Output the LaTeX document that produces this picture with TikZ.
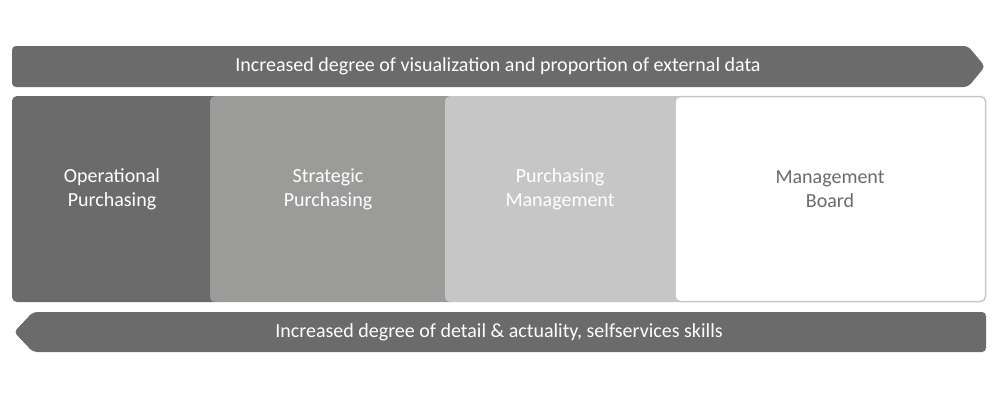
\documentclass[tikz,border=0pt]{standalone}
\usepackage{fontspec}
\setmainfont{Carlito}
\usepackage{tikz}
\definecolor{dark}{HTML}{6B6B6B}
\definecolor{mid}{HTML}{9B9B9A}
\definecolor{light}{HTML}{C6C6C6}
\definecolor{rim}{HTML}{C8C8C8}
\begin{document}
\begin{tikzpicture}[x=1pt,y=-1pt,font=\fontsize{20}{24}\selectfont,
  lbl/.style={align=center,text=white}]
\useasboundingbox (0,0) rectangle (1000,400);
\fill[dark,rounded corners=4] (968,46) -- (12,46) -- (12,87) -- (968,87) -- (985,66.5) -- cycle;
\node[lbl] (top) at (498,66.5) {Increased degree of visualization and proportion of external data};
\fill[dark,rounded corners=5] (12,96) rectangle (222,302);
\fill[mid,rounded corners=5] (210,96) rectangle (457,302);
\fill[light,rounded corners=5] (445,96) rectangle (690,302);
\draw[rim,fill=white,line width=1.5,rounded corners=5] (675,96.5) rectangle (985.5,301.5);
\node[lbl] (op) at (112,189) {Operational\\Purchasing};
\node[lbl] (st) at (328,189) {Strategic\\Purchasing};
\node[lbl] (pm) at (560,189) {Purchasing\\Management};
\node[lbl,text=dark] (mb) at (830,189) {Management\\Board};
\fill[dark,rounded corners=4] (33,312) -- (986,312) -- (986,352) -- (33,352) -- (14,332) -- cycle;
\node[lbl] (bot) at (499,332) {Increased degree of detail \& actuality, selfservices skills};
\end{tikzpicture}
\end{document}
